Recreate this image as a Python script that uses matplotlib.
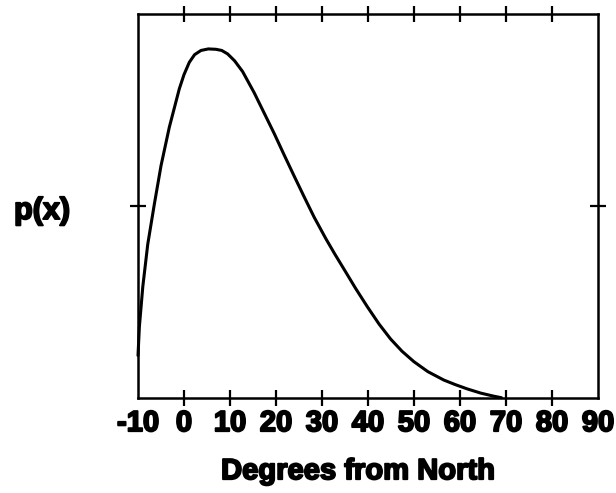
import matplotlib
matplotlib.use("Agg")
import matplotlib.pyplot as plt
import matplotlib.patheffects as pe

# Curve (degrees from North, relative density)
x_deg = [-10.0, -9.7, -8.96, -7.88, -6.44, -4.99, -3.19, -1.02, 0.0, 1.15, 2.3, 3.69,
         5.3, 6.94, 8.2, 9.48, 11.0, 12.74, 15.25, 17.42, 19.59, 21.76, 23.93,
         26.10, 28.27, 30.81, 32.8, 34.78, 37.3, 39.86, 42.4, 44.91, 47.4, 49.97,
         53.0, 56.48, 59.0, 61.55, 64.5, 67.32, 69.0]
p_x = [0.11, 0.185, 0.289, 0.400, 0.505, 0.605, 0.705, 0.805, 0.842, 0.874, 0.894, 0.905,
       0.909, 0.908, 0.905, 0.896, 0.878, 0.850, 0.795, 0.742, 0.689, 0.633, 0.578,
       0.524, 0.471, 0.415, 0.374, 0.335, 0.285, 0.237, 0.192, 0.153, 0.121, 0.094,
       0.068, 0.046, 0.034, 0.023, 0.012, 0.004, 0.0]

xticks = [-10, 0, 10, 20, 30, 40, 50, 60, 70, 80, 90]
xtick_labels = ["-10", "0", "10", "20", "30", "40", "50", "60", "70", "80", "90"]
yticks = [0.5]

FONT = "Liberation Sans"
fx = [pe.withStroke(linewidth=1.4, foreground="black")]

fig = plt.figure(figsize=(6.16, 4.93), dpi=100)
ax = fig.add_axes([138/616, 1-397.7/493, (598-138)/616, (397.7-14)/493])

ax.plot(x_deg, p_x, color="black", lw=2.2, solid_capstyle="round", solid_joinstyle="round", clip_on=False)

ax.set_xlim(-10, 90)
ax.set_ylim(0, 1)
ax.set_xticks(xticks)
ax.set_xticklabels(xtick_labels)
ax.set_yticks(yticks)
ax.set_yticklabels([])

for s in ax.spines.values():
    s.set_linewidth(1.8)
    s.set_color("black")

ax.tick_params(axis="both", which="major", direction="inout", length=11.5, width=1.6,
               top=True, bottom=True, left=True, right=True, color="black")
ax.tick_params(axis="x", pad=2.5)

for lbl in ax.get_xticklabels():
    lbl.set_fontfamily(FONT)
    lbl.set_fontweight("bold")
    lbl.set_fontsize(21)
    lbl.set_path_effects(fx)

# hide ticks at the spine ends on bottom/top (labels kept)
for t in ax.xaxis.get_major_ticks():
    if t.get_loc() in (-10, 90):
        t.tick1line.set_visible(False)
        t.tick2line.set_visible(False)

ax.set_xlabel("Degrees from North", fontfamily=FONT, fontweight="bold", fontsize=21,
              path_effects=fx)
ax.xaxis.set_label_coords(0.478, -0.155)
ax.xaxis.label.set_va("top")

fig.text(42/616, 1-211/493, "p(x)", fontfamily=FONT, fontweight="bold", fontsize=22,
         ha="center", va="center", path_effects=fx)

fig.savefig("out.png", dpi=100, facecolor="white")
